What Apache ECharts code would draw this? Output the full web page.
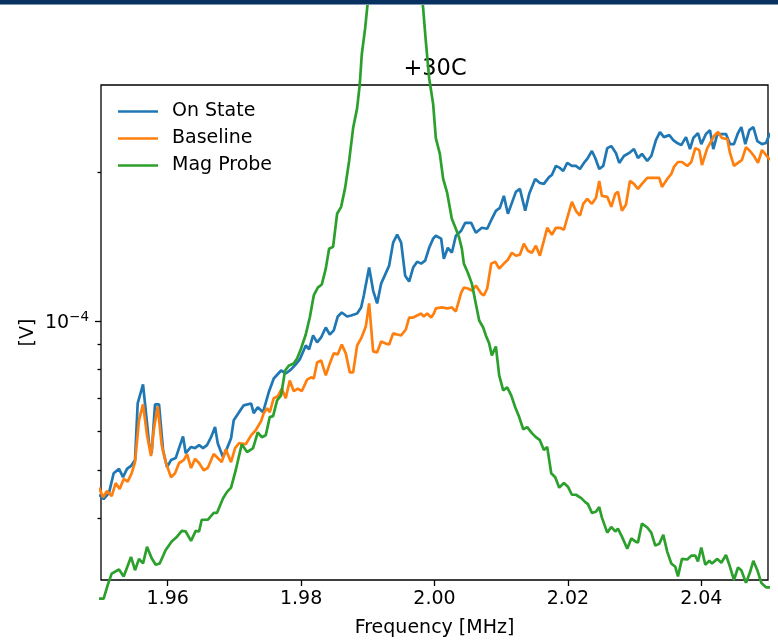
<!DOCTYPE html>
<html><head><meta charset="utf-8">
<script src="https://cdn.jsdelivr.net/npm/echarts@6/dist/echarts.min.js"></script>
<style>html,body{margin:0;padding:0;background:#fff}#c{width:778px;height:642px}</style>
</head><body><div id="c"></div>
<script>
// ---- data (frequency in MHz, amplitude in V) ----
const seriesNames = ['On State', 'Baseline', 'Mag Probe'];

const freqOnState = [1.9497,1.9504,1.9512,1.9519,1.9527,1.9533,1.9539,1.9545,1.9551,1.9555,1.9563,1.9567,1.9572,1.9576,1.9581,1.9587,1.9593,1.9599,1.9605,1.9612,1.9617,1.9623,1.9627,1.9635,1.9641,1.9647,1.9653,1.9659,1.9665,1.9671,1.9675,1.9683,1.9689,1.9695,1.9699,1.9707,1.9714,1.9725,1.9729,1.9735,1.9743,
1.9752,1.9759,1.9770,1.9777,1.9785,1.9792,1.9798,1.9807,1.9812,1.9818,1.9824,1.9830,1.9837,1.9843,1.9849,1.9855,1.9861,1.9869,1.9875,1.9884,1.9890,1.9894,1.9902,1.9908,1.9914,1.9920,1.9926,1.9932,1.9938,1.9944,1.9950,1.9956,1.9962,1.9968,1.9974,1.9980,1.9986,1.9992,
1.9998,2.0002,2.0010,2.0014,2.0020,2.0026,2.0032,2.0040,2.0046,2.0055,2.0062,2.0071,2.0079,2.0086,2.0092,2.0098,2.0104,2.0110,2.0116,2.0122,2.0128,2.0136,2.0142,2.0151,2.0158,2.0164,2.0172,2.0176,2.0182,2.0188,2.0193,2.0199,2.0206,2.0212,2.0218,2.0224,2.0229,2.0236,2.0241,2.0247,
2.0253,2.0259,2.0265,2.0272,2.0277,2.0284,2.0292,2.0299,2.0305,2.0311,2.0319,2.0325,2.0332,2.0338,2.0344,2.0352,2.0358,2.0364,2.0370,2.0377,2.0383,2.0388,2.0395,2.0400,2.0407,2.0413,2.0418,2.0424,2.0430,2.0437,2.0443,2.0449,2.0455,2.0460,2.0466,2.0472,2.0478,2.0484,2.0491,2.0497,2.0503];
const onState = [4.46e-5,4.37e-5,4.50e-5,4.93e-5,5.03e-5,4.84e-5,5.03e-5,5.10e-5,5.24e-5,6.82e-5,7.45e-5,6.61e-5,5.67e-5,5.41e-5,6.79e-5,6.79e-5,5.49e-5,5.07e-5,5.24e-5,5.29e-5,5.54e-5,5.85e-5,5.41e-5,5.57e-5,5.54e-5,5.62e-5,5.54e-5,5.62e-5,5.83e-5,6.11e-5,5.67e-5,5.31e-5,5.54e-5,5.80e-5,6.31e-5,6.55e-5,6.76e-5,6.82e-5,6.52e-5,6.70e-5,6.55e-5,
7.22e-5,7.66e-5,7.95e-5,7.84e-5,7.99e-5,8.18e-5,8.37e-5,8.93e-5,8.77e-5,9.36e-5,9.06e-5,9.27e-5,9.71e-5,9.40e-5,9.58e-5,10.22e-5,10.41e-5,10.22e-5,10.27e-5,10.36e-5,10.66e-5,11.27e-5,12.83e-5,11.53e-5,10.86e-5,11.91e-5,12.42e-5,12.95e-5,14.41e-5,14.95e-5,14.41e-5,12.36e-5,12.02e-5,12.83e-5,13.19e-5,13.07e-5,13.25e-5,14.07e-5,
14.68e-5,14.88e-5,14.68e-5,13.37e-5,14.07e-5,13.75e-5,14.88e-5,15.23e-5,15.80e-5,15.80e-5,15.09e-5,15.44e-5,15.37e-5,16.10e-5,16.71e-5,16.94e-5,17.91e-5,16.48e-5,17.34e-5,18.25e-5,18.50e-5,16.71e-5,18.08e-5,19.38e-5,19.02e-5,18.94e-5,19.56e-5,19.74e-5,20.59e-5,20.40e-5,20.11e-5,20.88e-5,20.59e-5,20.59e-5,20.30e-5,20.88e-5,21.27e-5,22.07e-5,21.36e-5,20.30e-5,
20.59e-5,22.37e-5,22.58e-5,21.87e-5,20.88e-5,21.56e-5,21.87e-5,22.27e-5,21.36e-5,21.77e-5,21.07e-5,21.56e-5,23.22e-5,24.10e-5,23.54e-5,23.76e-5,23.22e-5,22.90e-5,22.68e-5,23.54e-5,22.27e-5,23.44e-5,23.99e-5,22.79e-5,23.88e-5,24.32e-5,22.27e-5,23.88e-5,23.88e-5,23.88e-5,22.79e-5,22.79e-5,23.99e-5,24.66e-5,22.79e-5,24.32e-5,24.66e-5,23.11e-5,22.79e-5,22.90e-5,23.99e-5];

const freqBaseline = [1.9497,1.9503,1.9509,1.9516,1.9522,1.9528,1.9534,1.9540,1.9546,1.9551,1.9557,1.9563,1.9569,1.9575,1.9579,1.9585,1.9591,1.9597,1.9605,1.9611,1.9617,1.9624,1.9629,1.9635,1.9641,1.9647,1.9654,1.9660,1.9669,1.9675,1.9681,1.9687,1.9695,1.9701,1.9707,1.9717,1.9725,1.9732,1.9740,
1.9744,1.9749,1.9753,1.9759,1.9765,1.9771,1.9777,1.9783,1.9789,1.9795,1.9801,1.9809,1.9815,1.9819,1.9824,1.9830,1.9837,1.9843,1.9849,1.9855,1.9861,1.9867,1.9873,1.9878,1.9884,1.9890,1.9897,1.9902,1.9908,1.9914,1.9920,1.9927,1.9932,1.9938,1.9944,1.9950,1.9957,1.9962,1.9968,1.9974,1.9980,1.9984,1.9989,1.9995,1.9999,
2.0002,2.0011,2.0019,2.0026,2.0032,2.0040,2.0044,2.0050,2.0056,2.0062,2.0070,2.0074,2.0079,2.0085,2.0091,2.0097,2.0104,2.0110,2.0116,2.0122,2.0128,2.0134,2.0140,2.0146,2.0152,2.0158,2.0164,2.0169,2.0176,2.0182,2.0188,2.0194,2.0200,2.0206,2.0212,2.0218,2.0223,2.0229,2.0236,2.0242,2.0247,
2.0251,2.0259,2.0265,2.0271,2.0275,2.0281,2.0287,2.0293,2.0299,2.0305,2.0311,2.0319,2.0325,2.0331,2.0337,2.0341,2.0349,2.0355,2.0359,2.0365,2.0371,2.0379,2.0385,2.0391,2.0397,2.0401,2.0409,2.0415,2.0419,2.0425,2.0431,2.0439,2.0443,2.0449,2.0455,2.0461,2.0467,2.0473,2.0479,2.0485,2.0491,2.0497,2.0503];
const baseline = [4.61e-5,4.41e-5,4.54e-5,4.43e-5,4.71e-5,4.58e-5,4.80e-5,4.74e-5,4.93e-5,5.19e-5,6.31e-5,6.79e-5,5.88e-5,5.34e-5,6.02e-5,6.73e-5,5.62e-5,5.19e-5,4.84e-5,4.93e-5,5.17e-5,5.24e-5,5.39e-5,5.05e-5,5.27e-5,5.17e-5,5.00e-5,5.05e-5,5.39e-5,5.29e-5,5.19e-5,5.51e-5,5.19e-5,5.54e-5,5.67e-5,5.64e-5,5.88e-5,6.02e-5,6.28e-5,
6.52e-5,6.67e-5,6.55e-5,6.99e-5,7.05e-5,7.31e-5,6.99e-5,7.59e-5,7.22e-5,7.31e-5,7.22e-5,7.62e-5,7.70e-5,7.66e-5,8.25e-5,8.33e-5,7.77e-5,8.21e-5,8.61e-5,8.57e-5,8.97e-5,8.61e-5,7.88e-5,7.88e-5,8.93e-5,9.23e-5,9.75e-5,10.86e-5,8.69e-5,8.65e-5,9.10e-5,9.01e-5,8.97e-5,9.45e-5,9.40e-5,9.36e-5,9.62e-5,10.17e-5,10.17e-5,10.27e-5,10.36e-5,10.22e-5,10.36e-5,10.17e-5,10.36e-5,
10.61e-5,10.66e-5,10.61e-5,10.66e-5,10.46e-5,11.42e-5,11.69e-5,11.64e-5,11.53e-5,11.80e-5,11.37e-5,11.27e-5,11.64e-5,13.07e-5,13.19e-5,12.77e-5,13.07e-5,13.31e-5,13.75e-5,13.56e-5,13.62e-5,14.34e-5,13.88e-5,13.75e-5,14.21e-5,13.56e-5,14.54e-5,15.44e-5,14.95e-5,15.44e-5,15.44e-5,15.30e-5,16.33e-5,17.42e-5,16.71e-5,16.33e-5,17.26e-5,17.66e-5,17.26e-5,17.74e-5,19.20e-5,
17.91e-5,17.83e-5,17.02e-5,18.08e-5,18.25e-5,16.71e-5,17.18e-5,19.20e-5,18.94e-5,18.50e-5,18.94e-5,19.47e-5,19.47e-5,19.47e-5,19.47e-5,18.67e-5,19.38e-5,19.83e-5,20.49e-5,20.97e-5,20.97e-5,20.59e-5,20.97e-5,22.37e-5,22.16e-5,20.68e-5,22.37e-5,23.11e-5,23.66e-5,24.10e-5,23.44e-5,23.33e-5,21.87e-5,20.59e-5,20.88e-5,21.17e-5,22.47e-5,22.07e-5,21.56e-5,20.88e-5,22.17e-5,21.66e-5,21.17e-5];

const freqMagProbe = [1.9497,1.9504,1.9510,1.9516,1.9527,1.9534,1.9545,1.9551,1.9557,1.9563,1.9569,1.9576,1.9582,1.9588,1.9597,1.9606,1.9614,1.9621,1.9627,1.9635,1.9642,1.9647,1.9651,1.9660,1.9669,1.9674,1.9683,1.9689,1.9695,1.9702,1.9711,1.9719,1.9728,1.9735,1.9741,1.9747,1.9753,1.9758,1.9764,1.9770,
1.9776,1.9782,1.9789,1.9794,1.9800,1.9807,1.9813,1.9819,1.9825,1.9831,1.9837,1.9842,1.9848,1.9854,1.9860,1.9866,1.9872,1.9878,1.9884,1.9888,1.9891,1.9896,1.9899,1.9905,1.9917,1.9929,1.9941,1.9953,1.9965,1.9977,1.9983,
1.9987,1.9992,1.9998,2.0002,2.0008,2.0013,2.0019,2.0026,2.0032,2.0037,2.0041,2.0044,2.0050,2.0056,2.0061,2.0067,2.0073,2.0077,2.0082,2.0086,2.0092,2.0097,2.0103,2.0109,2.0115,2.0121,2.0127,2.0133,2.0139,2.0146,2.0152,2.0158,2.0164,2.0169,2.0175,2.0181,2.0187,2.0194,2.0200,
2.0206,2.0212,2.0220,2.0226,2.0230,2.0236,2.0242,2.0247,2.0251,2.0259,2.0265,2.0271,2.0275,2.0281,2.0289,2.0295,2.0301,2.0305,2.0311,2.0319,2.0325,2.0331,2.0337,2.0343,2.0349,2.0355,2.0361,2.0365,2.0371,2.0379,2.0385,2.0391,2.0395,2.0400,2.0406,2.0412,2.0416,2.0424,2.0430,2.0437,2.0443,2.0449,2.0455,2.0460,2.0467,2.0473,2.0478,2.0484,2.0490,2.0497,2.0503];
const magProbe = [2.75e-5,2.75e-5,2.93e-5,3.09e-5,3.15e-5,3.05e-5,3.34e-5,3.14e-5,3.31e-5,3.24e-5,3.50e-5,3.32e-5,3.22e-5,3.24e-5,3.45e-5,3.59e-5,3.67e-5,3.77e-5,3.76e-5,3.60e-5,3.77e-5,3.76e-5,3.97e-5,3.97e-5,4.10e-5,4.10e-5,4.39e-5,4.52e-5,4.61e-5,5.00e-5,5.64e-5,5.44e-5,5.54e-5,5.96e-5,5.83e-5,5.88e-5,6.40e-5,6.43e-5,6.92e-5,7.08e-5,
7.95e-5,8.14e-5,8.21e-5,8.41e-5,8.81e-5,9.40e-5,10.17e-5,11.27e-5,11.69e-5,11.86e-5,12.77e-5,14.01e-5,14.14e-5,16.48e-5,17.02e-5,18.59e-5,21.07e-5,24.55e-5,26.94e-5,30.11e-5,34.61e-5,39.04e-5,42.83e-5,50.9e-5,64e-5,81e-5,93e-5,85e-5,67e-5,50.9e-5,42.83e-5,
36.75e-5,30.96e-5,27.45e-5,23.44e-5,21.77e-5,19.38e-5,18.16e-5,16.10e-5,15.37e-5,14.74e-5,14.01e-5,13.07e-5,12.53e-5,11.91e-5,11.01e-5,10.03e-5,9.71e-5,9.36e-5,9.01e-5,8.53e-5,8.89e-5,7.77e-5,7.25e-5,7.35e-5,7.08e-5,6.70e-5,6.40e-5,6.05e-5,6.11e-5,5.94e-5,5.83e-5,5.75e-5,5.49e-5,5.57e-5,4.93e-5,4.84e-5,4.61e-5,4.71e-5,4.63e-5,
4.46e-5,4.46e-5,4.39e-5,4.31e-5,4.27e-5,4.10e-5,4.12e-5,4.21e-5,4.01e-5,3.74e-5,3.84e-5,3.76e-5,3.81e-5,3.67e-5,3.47e-5,3.64e-5,3.59e-5,3.57e-5,3.90e-5,3.83e-5,3.74e-5,3.52e-5,3.55e-5,3.70e-5,3.42e-5,3.24e-5,3.19e-5,3.05e-5,3.31e-5,3.30e-5,3.36e-5,3.36e-5,3.27e-5,3.49e-5,3.22e-5,3.28e-5,3.24e-5,3.31e-5,3.25e-5,3.37e-5,3.19e-5,3.00e-5,3.18e-5,3.14e-5,2.96e-5,3.11e-5,3.28e-5,3.14e-5,2.96e-5,2.90e-5,2.90e-5];

// ---- axes ----
const xRange = [1.95, 2.05];
const xTickValues = [1.96, 1.98, 2.00, 2.02, 2.04];
const yRange = [3e-5, 3e-4];
const yMajorTicks = [1e-4];
const yMinorTicks = [4e-5, 5e-5, 6e-5, 7e-5, 8e-5, 9e-5, 2e-4];
const titleText = '+30C';
const xName = 'Frequency [MHz]';
const yName = '[V]';
const colors = ['#1f77b4', '#ff7f0e', '#2ca02c'];

const FONT = 'DejaVu Sans';
const FS = 19;
const lg = Math.log10;
const pair = (xs, ys) => xs.map((x, i) => [x, ys[i]]);

const chart = echarts.init(document.getElementById('c'), null, {renderer: 'canvas'});
const tickStyle = {color: '#000', width: 1.3};
const helperY = {
  type: 'value', position: 'left', min: lg(yRange[0]), max: lg(yRange[1]),
  axisLine: {show: false}, splitLine: {show: false}
};
const option = {
  animation: false,
  textStyle: {fontFamily: FONT},
  title: {
    text: titleText, left: 435, top: 58, textAlign: 'center', padding: 0, z: 0,
    textStyle: {fontFamily: FONT, fontSize: 22.5, fontWeight: 'normal', color: '#000'}
  },
  grid: {left: 101, top: 85, width: 667, height: 495, outerBoundsMode: 'none', containLabel: false,
         show: true, borderColor: '#000', borderWidth: 1.3, backgroundColor: 'transparent'},
  legend: {
    data: seriesNames, orient: 'vertical', left: 118, top: 102, padding: 0,
    icon: 'rect', itemWidth: 40, itemHeight: 2.7, itemGap: 8,
    textStyle: {fontFamily: FONT, fontSize: FS, color: '#000', lineHeight: 19, padding: [0, 0, 0, 9]}
  },
  xAxis: {
    type: 'value', min: xRange[0], max: xRange[1],
    axisLine: {show: false}, splitLine: {show: false},
    axisTick: {show: true, customValues: xTickValues, length: 6, lineStyle: tickStyle},
    axisLabel: {customValues: xTickValues, formatter: v => v.toFixed(2), margin: 10, fontSize: FS, color: '#000', fontFamily: FONT},
    name: xName, nameLocation: 'middle', nameGap: 39, nameMoveOverlap: false,
    nameTextStyle: {fontSize: FS, color: '#000', fontFamily: FONT}
  },
  yAxis: [
    {type: 'log', logBase: 10, min: yRange[0], max: yRange[1], position: 'left',
     axisLine: {show: false}, axisTick: {show: false}, axisLabel: {show: false}, splitLine: {show: false}},
    Object.assign({}, helperY, {
      axisTick: {show: true, customValues: yMinorTicks.map(lg), length: 3.5, lineStyle: tickStyle},
      axisLabel: {show: false}
    }),
    Object.assign({}, helperY, {
      axisTick: {show: true, customValues: yMajorTicks.map(lg), length: 6, lineStyle: tickStyle},
      axisLabel: {
        customValues: yMajorTicks.map(lg), margin: 12,
        formatter: v => '{b|10}{s|\u2212' + Math.abs(Math.round(v)) + '}',
        rich: {
          b: {fontFamily: FONT, fontSize: FS, color: '#000', lineHeight: 22, verticalAlign: 'bottom'},
          s: {fontFamily: FONT, fontSize: 13.5, color: '#000', lineHeight: 13, verticalAlign: 'top'}
        }
      },
      name: yName, nameLocation: 'middle', nameGap: 63, nameRotate: 90, nameMoveOverlap: false,
      nameTextStyle: {fontSize: FS, color: '#000', fontFamily: FONT}
    })
  ],
  graphic: [
    {type: 'rect', z: 100, shape: {x: 0, y: 0, width: 778, height: 4}, style: {fill: '#08315f'}},
    {type: 'rect', z: 100, shape: {x: 0, y: 4, width: 778, height: 1}, style: {fill: '#7d95b3'}}
  ],
  series: [
    {name: seriesNames[0], data: pair(freqOnState, onState)},
    {name: seriesNames[1], data: pair(freqBaseline, baseline)},
    {name: seriesNames[2], data: pair(freqMagProbe, magProbe)}
  ].map((s, i) => Object.assign(s, {
    type: 'line', xAxisIndex: 0, yAxisIndex: 0, showSymbol: false, symbol: 'none', clip: false,
    color: colors[i], lineStyle: {color: colors[i], width: 2.7}, emphasis: {disabled: true}
  }))
};
chart.setOption(option);
</script>
</body></html>
